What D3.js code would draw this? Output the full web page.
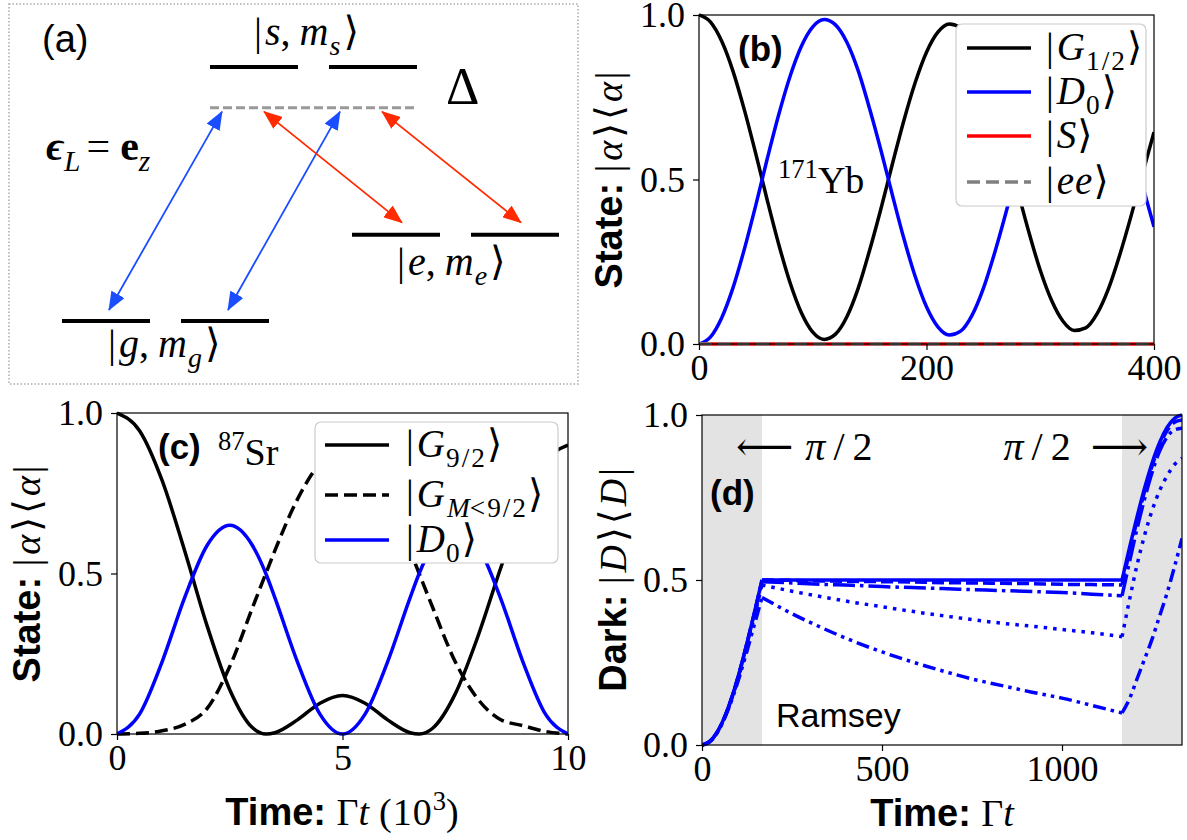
<!DOCTYPE html>
<html>
<head>
<meta charset="utf-8">
<script src="https://cdn.jsdelivr.net/npm/d3@7"></script>
<style>
body { margin: 0; background: #fff; }
svg { display: block; }
.tick text { font-family: 'Liberation Serif', 'DejaVu Serif', serif; font-size: 36px; fill: #000; }
.tick line { stroke: #000; stroke-width: 1.2; }
.domain { display: none; }
</style>
</head>
<body>
<svg id="fig" width="1187" height="840"></svg>
<script>
// ---------- panel (b): 171Yb populations vs time
const ybTime = [0, 10, 20, 30, 40, 50, 60, 70, 80, 90, 100, 110, 120, 130, 140, 150, 160, 170, 180, 190, 200,
    210, 220, 230, 240, 250, 260, 270, 280, 290, 300, 310, 320, 330, 340, 350, 360, 370, 380, 390, 400];
const ybGround = [1.000, 0.979, 0.920, 0.828, 0.710, 0.577, 0.437, 0.304, 0.187, 0.095, 0.036, 0.014, 0.030,
    0.083, 0.170, 0.285, 0.412, 0.547, 0.678, 0.794, 0.887, 0.948, 0.973, 0.961, 0.913, 0.831, 0.722, 0.599,
    0.468, 0.340, 0.224, 0.132, 0.069, 0.041, 0.049, 0.092, 0.168, 0.272, 0.391, 0.519, 0.644];
const ybDark = [0.000, 0.021, 0.080, 0.172, 0.290, 0.423, 0.563, 0.696, 0.813, 0.905, 0.964, 0.986, 0.970,
    0.917, 0.830, 0.715, 0.588, 0.453, 0.322, 0.206, 0.113, 0.052, 0.027, 0.039, 0.087, 0.169, 0.278, 0.401,
    0.532, 0.660, 0.776, 0.868, 0.931, 0.959, 0.951, 0.908, 0.832, 0.728, 0.609, 0.481, 0.356];
const ybFlatTime = [0, 400];
const ybS = [0, 0];
const ybEE = [0, 0];
const ybTicks = [0, 200, 400];

// ---------- panel (c): 87Sr populations, time in 10^3 / Gamma
const srTime = [0, 0.5, 1, 1.5, 2, 2.5, 3, 3.3, 3.5, 4, 4.5, 5, 5.5, 6, 6.5, 6.7, 7, 7.5, 8, 8.5, 9, 9.5, 10];
const srG92 = [1.000, 0.945, 0.790, 0.571, 0.336, 0.138, 0.020, 0.000, 0.004, 0.044, 0.096, 0.120, 0.096,
    0.044, 0.004, 0.000, 0.018, 0.125, 0.303, 0.514, 0.711, 0.850, 0.900];
const srGM = [0.000, 0.002, 0.010, 0.030, 0.080, 0.210, 0.392, 0.500, 0.571, 0.731, 0.842, 0.880, 0.842,
    0.731, 0.571, 0.500, 0.394, 0.225, 0.109, 0.045, 0.026, 0.008, 0.000];
const srD0 = [0.000, 0.062, 0.225, 0.425, 0.588, 0.650, 0.588, 0.500, 0.425, 0.225, 0.062, 0.000, 0.062,
    0.225, 0.425, 0.500, 0.588, 0.650, 0.588, 0.425, 0.225, 0.062, 0.000];
const srTicks = [0, 5, 10];

// ---------- panel (d): Ramsey sequence, dark-state population
const rmTime = [0, 20.8, 41.7, 62.5, 83.3, 104.2, 125, 145.8, 166.7,
    250, 333.3, 416.7, 500, 583.3, 666.7, 750, 833.3, 916.7, 1000, 1083.3,
    1166.7, 1187.5, 1208.3, 1229.2, 1250, 1270.8, 1291.7, 1312.5, 1333.3];
const rmSolid = [0, 0.010, 0.038, 0.084, 0.146, 0.222, 0.309, 0.402, 0.500,
    0.500, 0.500, 0.500, 0.500, 0.500, 0.500, 0.500, 0.500, 0.500, 0.500, 0.500,
    0.500, 0.598, 0.691, 0.778, 0.854, 0.916, 0.962, 0.990, 1.000];
const rmDashed = [0, 0.010, 0.038, 0.084, 0.146, 0.222, 0.309, 0.402, 0.500,
    0.499, 0.497, 0.496, 0.495, 0.494, 0.492, 0.491, 0.490, 0.489, 0.487, 0.486,
    0.485, 0.585, 0.680, 0.768, 0.845, 0.907, 0.952, 0.978, 0.985];
const rmDashDot = [0, 0.010, 0.038, 0.083, 0.145, 0.220, 0.306, 0.399, 0.495,
    0.491, 0.487, 0.484, 0.480, 0.477, 0.474, 0.471, 0.468, 0.465, 0.462, 0.457,
    0.452, 0.555, 0.655, 0.745, 0.825, 0.890, 0.933, 0.955, 0.960];
const rmDotted = [0, 0.009, 0.037, 0.082, 0.142, 0.216, 0.300, 0.391, 0.485,
    0.466, 0.449, 0.433, 0.419, 0.405, 0.392, 0.380, 0.369, 0.360, 0.350, 0.340,
    0.328, 0.440, 0.545, 0.635, 0.710, 0.770, 0.815, 0.850, 0.869];
const rmDashDotDot = [0, 0.009, 0.036, 0.080, 0.138, 0.208, 0.285, 0.366, 0.447,
    0.398, 0.355, 0.316, 0.282, 0.252, 0.225, 0.200, 0.180, 0.160, 0.142, 0.120,
    0.097, 0.140, 0.200, 0.260, 0.320, 0.390, 0.460, 0.540, 0.626];
const rmPhases = [[0, 8], [8, 20], [20, 28]]; // index ranges: pulse, dark time, pulse
const rmPulses = [[0, 166.7], [1166.7, 1333.3]];
const rmTicks = [0, 500, 1000];

const yTicks = [0, 0.5, 1];

// ---------- fonts / rich text
const serif = "'Liberation Serif', 'DejaVu Serif', 'DejaVu Sans', serif";
const sans = "'Liberation Sans', 'DejaVu Sans', sans-serif";
const fonts = {
    rm: { family: serif },
    it: { family: serif, style: 'italic' },
    bf: { family: serif, weight: 'bold' },
    bi: { family: serif, weight: 'bold', style: 'italic' },
    sf: { family: sans },
    sfb: { family: sans, weight: 'bold' }
};

const fig = d3.select('#fig');

const rich = (parent, x, y, size, parts, anchor = 'start', rotate = 0) => {
    const t = parent.append('text')
        .attr('transform', `translate(${x},${y}) rotate(${rotate})`)
        .attr('text-anchor', anchor)
        .attr('fill', '#000')
        .style('font-size', size + 'px');
    let shift = 0;
    parts.forEach((p) => {
        const f = fonts[p.f || 'rm'];
        const small = p.sub || p.sup;
        const want = p.sub ? size * 0.26 : p.sup ? -size * 0.4 : 0;
        const span = t.append('tspan').text(p.t)
            .style('font-family', f.family)
            .style('font-weight', f.weight || 'normal')
            .style('font-style', f.style || 'normal')
            .style('font-size', (small ? size * 0.7 : size) + 'px');
        if (want !== shift) {
            span.attr('dy', want - shift);
            shift = want;
        }
        if (p.ls) span.style('letter-spacing', p.ls + 'px');
        if (p.dx) span.attr('dx', p.dx);
    });
    return t;
};

const ket = (parts) => [{ t: '|', ls: 3 }, ...parts, { t: '⟩' }];

let clipCount = 0;
const makePanel = (box, xDomain) => {
    const x = d3.scaleLinear().domain(xDomain).range([box.x0, box.x1]);
    const y = d3.scaleLinear().domain([0, 1]).range([box.y1, box.y0]);
    const id = 'clip' + clipCount++;
    fig.append('clipPath').attr('id', id).append('rect')
        .attr('x', box.x0).attr('y', box.y0 - 2)
        .attr('width', box.x1 - box.x0).attr('height', box.y1 - box.y0 + 4);
    const g = fig.append('g');
    const back = g.append('g').attr('clip-path', `url(#${id})`);
    const plot = g.append('g').attr('clip-path', `url(#${id})`);
    return { x, y, g, back, plot, box };
};

const drawAxes = (p, xTicks, fmt) => {
    const b = p.box;
    p.g.append('rect')
        .attr('x', b.x0).attr('y', b.y0)
        .attr('width', b.x1 - b.x0).attr('height', b.y1 - b.y0)
        .attr('fill', 'none').attr('stroke', '#000').attr('stroke-width', 1.2);
    p.g.append('g')
        .attr('transform', `translate(${b.x0},0)`)
        .call(d3.axisLeft(p.y).tickValues(yTicks).tickFormat(d3.format('.1f')).tickSize(6).tickPadding(8));
    p.g.append('g')
        .attr('transform', `translate(0,${b.y1})`)
        .call(d3.axisBottom(p.x).tickValues(xTicks).tickFormat(fmt).tickSize(6).tickPadding(4));
};

const drawSeries = (p, xs, ys, style) => {
    const line = d3.line()
        .x((d) => p.x(d[0]))
        .y((d) => p.y(d[1]))
        .curve(d3.curveMonotoneX);
    p.plot.append('path')
        .datum(xs.map((t, i) => [t, ys[i]]))
        .attr('d', line)
        .attr('fill', 'none')
        .attr('stroke', style.color)
        .attr('stroke-width', style.width || 3)
        .attr('stroke-dasharray', style.dash || null)
        .attr('stroke-linecap', 'butt');
};

const drawLegend = (p, box, rows, entries) => {
    const lg = p.g.append('g');
    lg.append('rect')
        .attr('x', box.x).attr('y', box.y).attr('width', box.w).attr('height', box.h)
        .attr('rx', 6).attr('fill', '#fff')
        .attr('stroke', '#ccc').attr('stroke-width', 1.2);
    entries.forEach((e, i) => {
        lg.append('line')
            .attr('x1', box.lx0).attr('x2', box.lx1)
            .attr('y1', rows[i]).attr('y2', rows[i])
            .attr('stroke', e.color).attr('stroke-width', 3.5)
            .attr('stroke-dasharray', e.dash || null);
        rich(lg, box.tx, rows[i] + 12, 39, e.label);
    });
};

// ================= panel (a): level scheme =================
const levelNames = ['g', 'e', 's'];
const levelEnergy = [0, 0.34, 1];      // relative energy of g, e, s manifolds
const virtualEnergy = 0.84;            // detuned laser level (dashed)
const levelLeft = [62, 352, 210];      // left end of first sub-level
const subOffset = 119, subWidth = 88;

const aY = d3.scaleLinear().domain([0, 1]).range([321, 67]);
const ga = fig.append('g');

ga.append('rect')
    .attr('x', 9).attr('y', 4).attr('width', 569).attr('height', 380)
    .attr('fill', 'none').attr('stroke', '#aaa').attr('stroke-width', 1.5)
    .attr('stroke-dasharray', '1.5,2');

const defs = fig.append('defs');
[['blue', '#1a4dff'], ['red', '#ff2a00']].forEach(([k, c]) => {
    defs.append('marker')
        .attr('id', 'head-' + k)
        .attr('markerUnits', 'userSpaceOnUse')
        .attr('markerWidth', 19).attr('markerHeight', 15)
        .attr('refX', 18).attr('refY', 7.5)
        .attr('orient', 'auto-start-reverse')
        .append('path').attr('d', 'M0,0 L19,7.5 L0,15 Z').attr('fill', c);
});

levelNames.forEach((n, i) => {
    [0, 1].forEach((k) => {
        const x0 = levelLeft[i] + k * subOffset;
        ga.append('line')
            .attr('x1', x0).attr('x2', x0 + subWidth)
            .attr('y1', aY(levelEnergy[i])).attr('y2', aY(levelEnergy[i]))
            .attr('stroke', '#000').attr('stroke-width', 4);
    });
});
ga.append('line')
    .attr('x1', levelLeft[2]).attr('x2', levelLeft[2] + subOffset + subWidth)
    .attr('y1', aY(virtualEnergy)).attr('y2', aY(virtualEnergy))
    .attr('stroke', '#999').attr('stroke-width', 3).attr('stroke-dasharray', '9,4');

// couplings: lower level index, sub-level, horizontal run to the virtual level
const couplings = [
    { lvl: 0, sub: 0, run: 113, c: 'blue' },
    { lvl: 0, sub: 1, run: 112, c: 'blue' },
    { lvl: 1, sub: 0, run: -138, c: 'red' },
    { lvl: 1, sub: 1, run: -139, c: 'red' }
];
couplings.forEach((cp) => {
    const xb = levelLeft[cp.lvl] + cp.sub * subOffset + subWidth / 2 + (cp.c === 'blue' ? 3 : 6);
    const yb = aY(levelEnergy[cp.lvl]) - (cp.c === 'blue' ? 11 : 12);
    ga.append('line')
        .attr('x1', xb).attr('y1', yb)
        .attr('x2', xb + cp.run).attr('y2', aY(virtualEnergy) + 4)
        .attr('stroke', cp.c === 'blue' ? '#1a4dff' : '#ff2a00')
        .attr('stroke-width', 1.8)
        .attr('marker-start', `url(#head-${cp.c})`)
        .attr('marker-end', `url(#head-${cp.c})`);
});

rich(ga, 42, 52, 38, [{ t: '(a)', f: 'sf' }]);
rich(ga, 254, 45, 40, ket([{ t: 's', f: 'it' }, { t: ',', ls: 9 }, { t: 'm', f: 'it', ls: 1 }, { t: 's', f: 'it', sub: true, ls: 3 }]));
rich(ga, 397, 275, 40, ket([{ t: 'e', f: 'it' }, { t: ',', ls: 9 }, { t: 'm', f: 'it', ls: 1 }, { t: 'e', f: 'it', sub: true, ls: 3 }]));
rich(ga, 108, 357, 40, ket([{ t: 'g', f: 'it' }, { t: ',', ls: 9 }, { t: 'm', f: 'it', ls: 1 }, { t: 'g', f: 'it', sub: true, ls: 3 }]));
rich(ga, 446, 104, 52, [{ t: 'Δ' }]);
rich(ga, 46, 160, 42, [
    { t: 'ϵ', f: 'bi' }, { t: 'L', f: 'it', sub: true, ls: 6 }, { t: '=', ls: 10 },
    { t: 'e', f: 'bf' }, { t: 'z', f: 'it', sub: true }
]);

// ================= panel (b) =================
const pb = makePanel({ x0: 699, x1: 1154, y0: 15, y1: 344 }, [0, 400]);
drawSeries(pb, ybTime, ybGround, { color: '#000', width: 3.5 });
drawSeries(pb, ybTime, ybDark, { color: '#0000ff', width: 3.5 });
drawSeries(pb, ybFlatTime, ybS, { color: '#ff0000', width: 3.5 });
drawSeries(pb, ybFlatTime, ybEE, { color: '#808080', width: 3.5, dash: '13,6' });
drawAxes(pb, ybTicks, d3.format('d'));
rich(pb.g, 738, 61, 35, [{ t: '(b)', f: 'sfb' }]);
rich(pb.g, 778, 193, 38, [{ t: '171', sup: true }, { t: 'Yb' }]);
rich(pb.g, 622, 180, 38, [
    { t: 'State: ', f: 'sfb' }, { t: '|', ls: 4 }, { t: 'α', f: 'it', ls: 3 }, { t: '⟩⟨', ls: 3 },
    { t: 'α', f: 'it', ls: 3 }, { t: '|' }
], 'middle', -90);

const ybLegend = [
    { label: ket([{ t: 'G', f: 'it', ls: 1 }, { t: '1/2', sub: true, ls: 2 }]), color: '#000' },
    { label: ket([{ t: 'D', f: 'it', ls: 1 }, { t: '0', sub: true, ls: 2 }]), color: '#0000ff' },
    { label: ket([{ t: 'S', f: 'it', ls: 1 }]), color: '#ff0000' },
    { label: ket([{ t: 'ee', f: 'it', ls: 1 }]), color: '#808080', dash: '13,6' }
];
drawLegend(pb, { x: 956, y: 24, w: 190, h: 182, lx0: 967, lx1: 1031, tx: 1046 }, [48, 92, 136, 182], ybLegend);

// ================= panel (c) =================
const pc = makePanel({ x0: 117, x1: 568, y0: 413, y1: 734 }, [0, 10]);
drawSeries(pc, srTime, srG92, { color: '#000', width: 3.5 });
drawSeries(pc, srTime, srGM, { color: '#000', width: 3.5, dash: '13,6' });
drawSeries(pc, srTime, srD0, { color: '#0000ff', width: 3.5 });
drawAxes(pc, srTicks, d3.format('d'));
rich(pc.g, 158, 459, 35, [{ t: '(c)', f: 'sfb' }]);
rich(pc.g, 218, 465, 38, [{ t: '87', sup: true }, { t: 'Sr' }]);
rich(pc.g, 40, 574, 38, [
    { t: 'State: ', f: 'sfb' }, { t: '|', ls: 4 }, { t: 'α', f: 'it', ls: 3 }, { t: '⟩⟨', ls: 3 },
    { t: 'α', f: 'it', ls: 3 }, { t: '|' }
], 'middle', -90);
rich(pc.g, 342, 825, 38, [
    { t: 'Time: ', f: 'sfb' }, { t: 'Γ' }, { t: 't', f: 'it', ls: 10 }, { t: '(10', ls: 1 }, { t: '3', sup: true }, { t: ')' }
], 'middle');

const srLegend = [
    { label: ket([{ t: 'G', f: 'it', ls: 1 }, { t: '9/2', sub: true, ls: 2 }]), color: '#000' },
    { label: ket([{ t: 'G', f: 'it', ls: 2 }, { t: 'M', f: 'it', sub: true }, { t: '<9/2', sub: true, ls: 2 }]), color: '#000', dash: '13,6' },
    { label: ket([{ t: 'D', f: 'it', ls: 1 }, { t: '0', sub: true, ls: 2 }]), color: '#0000ff' }
];
drawLegend(pc, { x: 315, y: 422, w: 243, h: 141, lx0: 325, lx1: 389, tx: 406 }, [445, 495, 540], srLegend);

// ================= panel (d) =================
const pd = makePanel({ x0: 702, x1: 1182, y0: 415, y1: 745 }, [0, 1333.3]);
rmPulses.forEach(([a, b]) => {
    pd.back.append('rect')
        .attr('x', pd.x(a)).attr('width', pd.x(b) - pd.x(a))
        .attr('y', pd.box.y0).attr('height', pd.box.y1 - pd.box.y0)
        .attr('fill', '#e3e3e3');
});
const rmSeries = [
    { v: rmSolid, dash: null },
    { v: rmDashed, dash: '12,5' },
    { v: rmDashDot, dash: '22,5,3.5,5' },
    { v: rmDotted, dash: '3.5,6' },
    { v: rmDashDotDot, dash: '13,5,3.5,5,3.5,5' }
];
rmSeries.forEach((s) => {
    rmPhases.forEach(([i0, i1]) => {
        drawSeries(pd, rmTime.slice(i0, i1 + 1), s.v.slice(i0, i1 + 1),
            { color: '#0000ff', width: 3.5, dash: s.dash });
    });
});
drawAxes(pd, rmTicks, d3.format('d'));
rich(pd.g, 710, 505, 35, [{ t: '(d)', f: 'sfb' }]);
rich(pd.g, 776, 727, 34, [{ t: 'Ramsey', f: 'sf' }]);
rich(pd.g, 736, 460, 40, [{ t: '⟵', f: 'rm', ls: 12 }, { t: 'π', f: 'it' }, { t: '\u2009/\u20092' }]);
rich(pd.g, 1148, 460, 40, [{ t: 'π', f: 'it' }, { t: '\u2009/\u20092', ls: 0 }, { t: '\u2002⟶' }], 'end');
rich(pd.g, 626, 580, 38, [
    { t: 'Dark: ', f: 'sfb' }, { t: '|', ls: 4 }, { t: 'D', f: 'it', ls: 3 }, { t: '⟩⟨', ls: 3 },
    { t: 'D', f: 'it', ls: 3 }, { t: '|' }
], 'middle', -90);
rich(pd.g, 942, 826, 38, [{ t: 'Time: ', f: 'sfb' }, { t: 'Γ' }, { t: 't', f: 'it' }], 'middle');
</script>
</body>
</html>
